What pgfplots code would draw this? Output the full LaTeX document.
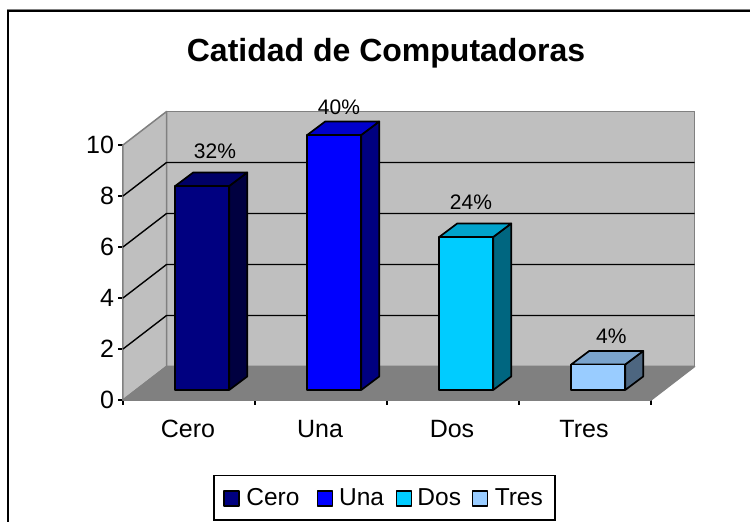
\documentclass[border=0pt]{standalone}
\usepackage{fontspec}
\setmainfont{Liberation Sans}
\usepackage{pgfplots}
\pgfplotsset{compat=1.18}
\definecolor{cA}{HTML}{000080}\definecolor{cAs}{HTML}{000040}\definecolor{cAt}{HTML}{000066}
\definecolor{cB}{HTML}{0000FF}\definecolor{cBs}{HTML}{000080}\definecolor{cBt}{HTML}{0000CC}
\definecolor{cC}{HTML}{00CCFF}\definecolor{cCs}{HTML}{006680}\definecolor{cCt}{HTML}{00A3CC}
\definecolor{cD}{HTML}{99CCFF}\definecolor{cDs}{HTML}{4D6680}\definecolor{cDt}{HTML}{7AA3CC}
\newcommand{\fs}[1]{\fontsize{#1}{#1}\selectfont}
\pgfplotsset{
  face/.style={draw=black,line width=1.7pt,line join=round,forget plot,xshift=13.2pt,yshift=10pt},
  front/.style={ybar,bar width=54pt,bar shift=13.2pt,draw=black,line width=1.7pt,line join=round,yshift=10pt},
  wall/.style={no marks,draw=gray,line width=1.5pt,line join=round,forget plot},
  grid3d/.style={no marks,draw=black,line width=1.4pt,forget plot},
}
\begin{document}
\begin{tikzpicture}
\path[use as bounding box] (-123pt,-122pt) rectangle (627pt,400pt);
\draw[gray,line width=1pt] (-116pt,390.5pt) -- (627pt,390.5pt);
\draw[black,line width=2pt] (-115pt,-122pt) -- (-115pt,389pt) -- (627pt,389pt);
\node[font=\bfseries\fs{32},anchor=base] at (263pt,338.5pt) {Catidad de Computadoras};
\begin{axis}[
  anchor=south west, at={(0pt,0pt)},
  scale only axis, width=528pt, height=255pt,
  xmin=0, xmax=4, ymin=0, ymax=10,
  clip=false,
  axis x line*=bottom, axis y line*=left,
  axis line style={line width=1.5pt,-},
  tick align=outside, major tick length=4.5pt, minor tick length=4.5pt,
  tick style={black,line width=1.3pt},
  xtick={0.5,1.5,2.5,3.5}, xticklabels={Cero,Una,Dos,Tres},
  major x tick style={draw=none},
  minor xtick={0,1,2,3,4},
  ytick={0,2,4,6,8,10},
  /pgf/number format/assume math mode=true,
  tick label style={font=\fs{25}},
  xticklabel style={yshift=-12pt,xshift=-1pt},
  yticklabel style={xshift=-1pt},
  legend columns=4,
  legend cell align=left,
  legend style={at={(0.495,-0.383)},anchor=center,draw=black,line width=1.5pt,
    font=\fs{24.5},inner xsep=10pt,inner ysep=11pt,
    /tikz/column 1/.style={column sep=5.5pt},
    /tikz/column 2/.style={column sep=16pt},
    /tikz/column 3/.style={column sep=4.7pt},
    /tikz/column 4/.style={column sep=10.4pt},
    /tikz/column 5/.style={column sep=4pt},
    /tikz/column 6/.style={column sep=9.7pt},
    /tikz/column 7/.style={column sep=5pt}},
  legend image code/.code={\path[use as bounding box,draw=none,fill=none] (0pt,0pt) rectangle (15pt,1pt);
    \draw[#1,yshift=-10pt,line width=1.3pt,draw=black] (0pt,-8.2pt) rectangle (15pt,6.8pt);},
]
% walls and floor
\addplot[wall,fill=black!25] coordinates {(0.33,1.314)(4.33,1.314)(4.33,11.314)(0.33,11.314)} -- cycle;
\addplot[wall,fill=black!25] coordinates {(0,0)(0.33,1.314)(0.33,11.314)(0,10)} -- cycle;
\addplot[wall,fill=gray] coordinates {(0,0)(4,0)(4.33,1.314)(0.33,1.314)} -- cycle;
% gridlines
\addplot[grid3d] coordinates {(0,2)(0.33,3.314)(4.33,3.314)};
\addplot[grid3d] coordinates {(0,4)(0.33,5.314)(4.33,5.314)};
\addplot[grid3d] coordinates {(0,6)(0.33,7.314)(4.33,7.314)};
\addplot[grid3d] coordinates {(0,8)(0.33,9.314)(4.33,9.314)};
% sides and tops (value at the front edge, value + 0.53 at the rear)
\addplot[face,fill=cAs] coordinates {(0.7045,0)(0.841,0.53)(0.841,8.53)(0.7045,8)} -- cycle;
\addplot[face,fill=cAt] coordinates {(0.2955,8)(0.7045,8)(0.841,8.53)(0.432,8.53)} -- cycle;
\addplot[face,fill=cBs] coordinates {(1.7045,0)(1.841,0.53)(1.841,10.53)(1.7045,10)} -- cycle;
\addplot[face,fill=cBt] coordinates {(1.2955,10)(1.7045,10)(1.841,10.53)(1.432,10.53)} -- cycle;
\addplot[face,fill=cCs] coordinates {(2.7045,0)(2.841,0.53)(2.841,6.53)(2.7045,6)} -- cycle;
\addplot[face,fill=cCt] coordinates {(2.2955,6)(2.7045,6)(2.841,6.53)(2.432,6.53)} -- cycle;
\addplot[face,fill=cDs] coordinates {(3.7045,0)(3.841,0.53)(3.841,1.53)(3.7045,1)} -- cycle;
\addplot[face,fill=cDt] coordinates {(3.2955,1)(3.7045,1)(3.841,1.53)(3.432,1.53)} -- cycle;
% fronts
\addplot[front,fill=cA] coordinates {(0.5,8)};
\addlegendentry{Cero}
\addplot[front,fill=cB] coordinates {(1.5,10)};
\addlegendentry{Una}
\addplot[front,fill=cC] coordinates {(2.5,6)};
\addlegendentry{Dos}
\addplot[front,fill=cD] coordinates {(3.5,1)};
\addlegendentry{Tres}
% data labels
\node[font=\fs{21}] at (axis cs:0.697,9.74) {32\%};
\node[font=\fs{21}] at (axis cs:1.636,11.47) {40\%};
\node[font=\fs{21}] at (axis cs:2.636,7.74) {24\%};
\node[font=\fs{21}] at (axis cs:3.70,2.51) {4\%};
\end{axis}
\end{tikzpicture}
\end{document}
